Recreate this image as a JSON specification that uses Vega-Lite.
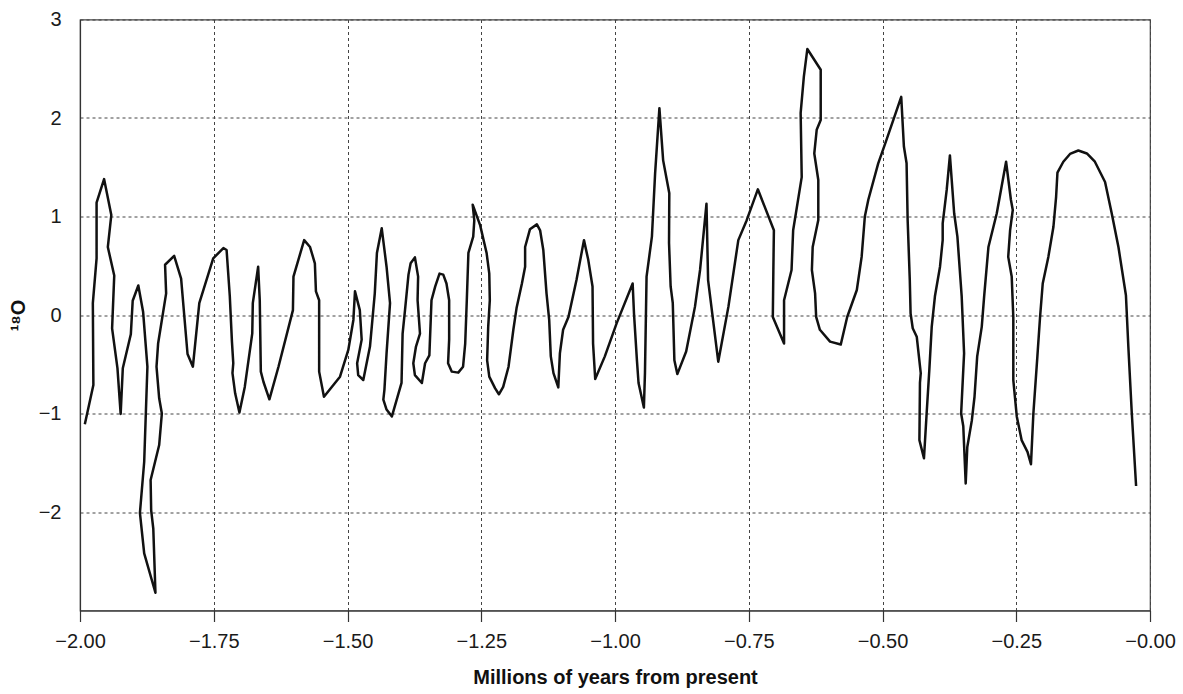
{
  "$schema": "https://vega.github.io/schema/vega-lite/v6.json",
  "autosize": "none",
  "width": 1070,
  "height": 591,
  "padding": {"left": 80, "top": 19.5, "right": 33, "bottom": 83.5},
  "background": "white",
  "config": {
    "view": {"stroke": "#444", "strokeWidth": 1.2},
    "font": "Liberation Sans"
  },
  "data": {
    "values": [
      {"i": 1, "x": -1.991, "y": -1.11},
      {"i": 2, "x": -1.975, "y": -0.71},
      {"i": 3, "x": -1.976, "y": 0.12},
      {"i": 4, "x": -1.969, "y": 0.575},
      {"i": 5, "x": -1.969, "y": 1.14},
      {"i": 6, "x": -1.955, "y": 1.38},
      {"i": 7, "x": -1.9415, "y": 1.015},
      {"i": 8, "x": -1.948, "y": 0.69},
      {"i": 9, "x": -1.936, "y": 0.40},
      {"i": 10, "x": -1.940, "y": -0.135},
      {"i": 11, "x": -1.930, "y": -0.54},
      {"i": 12, "x": -1.924, "y": -1.005},
      {"i": 13, "x": -1.920, "y": -0.54},
      {"i": 14, "x": -1.905, "y": -0.196},
      {"i": 15, "x": -1.9015, "y": 0.145},
      {"i": 16, "x": -1.891, "y": 0.30},
      {"i": 17, "x": -1.882, "y": 0.03},
      {"i": 18, "x": -1.874, "y": -0.525},
      {"i": 19, "x": -1.880, "y": -1.49},
      {"i": 20, "x": -1.888, "y": -2.01},
      {"i": 21, "x": -1.880, "y": -2.42},
      {"i": 22, "x": -1.859, "y": -2.82},
      {"i": 23, "x": -1.863, "y": -2.17},
      {"i": 24, "x": -1.867, "y": -1.98},
      {"i": 25, "x": -1.868, "y": -1.675},
      {"i": 26, "x": -1.852, "y": -1.32},
      {"i": 27, "x": -1.847, "y": -1.0},
      {"i": 28, "x": -1.852, "y": -0.846},
      {"i": 29, "x": -1.857, "y": -0.525},
      {"i": 30, "x": -1.854, "y": -0.29},
      {"i": 31, "x": -1.839, "y": 0.22},
      {"i": 32, "x": -1.841, "y": 0.51},
      {"i": 33, "x": -1.824, "y": 0.60},
      {"i": 34, "x": -1.811, "y": 0.37},
      {"i": 35, "x": -1.799, "y": -0.396},
      {"i": 36, "x": -1.789, "y": -0.525},
      {"i": 37, "x": -1.777, "y": 0.12},
      {"i": 38, "x": -1.751, "y": 0.575},
      {"i": 39, "x": -1.732, "y": 0.68},
      {"i": 40, "x": -1.726, "y": 0.66},
      {"i": 41, "x": -1.720, "y": 0.19},
      {"i": 42, "x": -1.716, "y": -0.27},
      {"i": 43, "x": -1.7135, "y": -0.49},
      {"i": 44, "x": -1.715, "y": -0.59},
      {"i": 45, "x": -1.710, "y": -0.795},
      {"i": 46, "x": -1.702, "y": -0.99},
      {"i": 47, "x": -1.692, "y": -0.73},
      {"i": 48, "x": -1.678, "y": -0.186},
      {"i": 49, "x": -1.677, "y": 0.12},
      {"i": 50, "x": -1.667, "y": 0.49},
      {"i": 51, "x": -1.664, "y": 0.15},
      {"i": 52, "x": -1.662, "y": -0.575},
      {"i": 53, "x": -1.657, "y": -0.68},
      {"i": 54, "x": -1.646, "y": -0.856},
      {"i": 55, "x": -1.629, "y": -0.525},
      {"i": 56, "x": -1.602, "y": 0.05},
      {"i": 57, "x": -1.601, "y": 0.39},
      {"i": 58, "x": -1.581, "y": 0.76},
      {"i": 59, "x": -1.570, "y": 0.69},
      {"i": 60, "x": -1.561, "y": 0.525},
      {"i": 61, "x": -1.559, "y": 0.24},
      {"i": 62, "x": -1.553, "y": 0.15},
      {"i": 63, "x": -1.553, "y": -0.575},
      {"i": 64, "x": -1.544, "y": -0.83},
      {"i": 65, "x": -1.514, "y": -0.626},
      {"i": 66, "x": -1.4985, "y": -0.355},
      {"i": 67, "x": -1.489, "y": -0.05},
      {"i": 68, "x": -1.486, "y": 0.24},
      {"i": 69, "x": -1.477, "y": 0.05},
      {"i": 70, "x": -1.4735, "y": -0.25},
      {"i": 71, "x": -1.482, "y": -0.49},
      {"i": 72, "x": -1.480, "y": -0.61},
      {"i": 73, "x": -1.4705, "y": -0.66},
      {"i": 74, "x": -1.458, "y": -0.32},
      {"i": 75, "x": -1.449, "y": 0.22},
      {"i": 76, "x": -1.445, "y": 0.63},
      {"i": 77, "x": -1.436, "y": 0.88},
      {"i": 78, "x": -1.427, "y": 0.49},
      {"i": 79, "x": -1.4205, "y": 0.12},
      {"i": 80, "x": -1.427, "y": -0.39},
      {"i": 81, "x": -1.431, "y": -0.76},
      {"i": 82, "x": -1.433, "y": -0.86},
      {"i": 83, "x": -1.427, "y": -0.96},
      {"i": 84, "x": -1.417, "y": -1.03},
      {"i": 85, "x": -1.399, "y": -0.69},
      {"i": 86, "x": -1.397, "y": -0.19},
      {"i": 87, "x": -1.3925, "y": 0.05},
      {"i": 88, "x": -1.386, "y": 0.41},
      {"i": 89, "x": -1.382, "y": 0.525},
      {"i": 90, "x": -1.374, "y": 0.585},
      {"i": 91, "x": -1.368, "y": 0.39},
      {"i": 92, "x": -1.369, "y": 0.15},
      {"i": 93, "x": -1.3645, "y": -0.19},
      {"i": 94, "x": -1.372, "y": -0.32},
      {"i": 95, "x": -1.377, "y": -0.49},
      {"i": 96, "x": -1.374, "y": -0.61},
      {"i": 97, "x": -1.361, "y": -0.69},
      {"i": 98, "x": -1.355, "y": -0.49},
      {"i": 99, "x": -1.347, "y": -0.41},
      {"i": 100, "x": -1.343, "y": 0.15},
      {"i": 101, "x": -1.336, "y": 0.29},
      {"i": 102, "x": -1.328, "y": 0.42},
      {"i": 103, "x": -1.321, "y": 0.41},
      {"i": 104, "x": -1.315, "y": 0.32},
      {"i": 105, "x": -1.310, "y": 0.15},
      {"i": 106, "x": -1.310, "y": -0.25},
      {"i": 107, "x": -1.312, "y": -0.49},
      {"i": 108, "x": -1.305, "y": -0.575},
      {"i": 109, "x": -1.293, "y": -0.585},
      {"i": 110, "x": -1.284, "y": -0.525},
      {"i": 111, "x": -1.280, "y": -0.29},
      {"i": 112, "x": -1.277, "y": 0.15},
      {"i": 113, "x": -1.274, "y": 0.63},
      {"i": 114, "x": -1.265, "y": 0.795},
      {"i": 115, "x": -1.263, "y": 0.96},
      {"i": 116, "x": -1.266, "y": 1.12},
      {"i": 117, "x": -1.252, "y": 0.91},
      {"i": 118, "x": -1.240, "y": 0.63},
      {"i": 119, "x": -1.235, "y": 0.42},
      {"i": 120, "x": -1.234, "y": 0.15},
      {"i": 121, "x": -1.237, "y": -0.12},
      {"i": 122, "x": -1.239, "y": -0.46},
      {"i": 123, "x": -1.235, "y": -0.626},
      {"i": 124, "x": -1.224, "y": -0.745},
      {"i": 125, "x": -1.217, "y": -0.805},
      {"i": 126, "x": -1.209, "y": -0.73},
      {"i": 127, "x": -1.199, "y": -0.525},
      {"i": 128, "x": -1.190, "y": -0.15},
      {"i": 129, "x": -1.184, "y": 0.07},
      {"i": 130, "x": -1.174, "y": 0.32},
      {"i": 131, "x": -1.168, "y": 0.49},
      {"i": 132, "x": -1.168, "y": 0.69},
      {"i": 133, "x": -1.159, "y": 0.87},
      {"i": 134, "x": -1.146, "y": 0.92},
      {"i": 135, "x": -1.140, "y": 0.86},
      {"i": 136, "x": -1.134, "y": 0.66},
      {"i": 137, "x": -1.128, "y": 0.22},
      {"i": 138, "x": -1.123, "y": -0.05},
      {"i": 139, "x": -1.120, "y": -0.42},
      {"i": 140, "x": -1.115, "y": -0.59},
      {"i": 141, "x": -1.106, "y": -0.735},
      {"i": 142, "x": -1.103, "y": -0.39},
      {"i": 143, "x": -1.097, "y": -0.15},
      {"i": 144, "x": -1.087, "y": -0.02},
      {"i": 145, "x": -1.072, "y": 0.355},
      {"i": 146, "x": -1.058, "y": 0.76},
      {"i": 147, "x": -1.050, "y": 0.56},
      {"i": 148, "x": -1.042, "y": 0.29},
      {"i": 149, "x": -1.041, "y": -0.29},
      {"i": 150, "x": -1.037, "y": -0.65},
      {"i": 151, "x": -1.019, "y": -0.42},
      {"i": 152, "x": -0.997, "y": -0.085},
      {"i": 153, "x": -0.967, "y": 0.32},
      {"i": 154, "x": -0.9645, "y": 0.015},
      {"i": 155, "x": -0.959, "y": -0.46},
      {"i": 156, "x": -0.956, "y": -0.69},
      {"i": 157, "x": -0.946, "y": -0.94},
      {"i": 158, "x": -0.944, "y": -0.59},
      {"i": 159, "x": -0.941, "y": 0.39},
      {"i": 160, "x": -0.931, "y": 0.795},
      {"i": 161, "x": -0.925, "y": 1.44},
      {"i": 162, "x": -0.917, "y": 2.10},
      {"i": 163, "x": -0.910, "y": 1.57},
      {"i": 164, "x": -0.8985, "y": 1.235},
      {"i": 165, "x": -0.899, "y": 0.73},
      {"i": 166, "x": -0.896, "y": 0.29},
      {"i": 167, "x": -0.892, "y": 0.12},
      {"i": 168, "x": -0.889, "y": -0.46},
      {"i": 169, "x": -0.8835, "y": -0.60},
      {"i": 170, "x": -0.867, "y": -0.37},
      {"i": 171, "x": -0.8505, "y": 0.085},
      {"i": 172, "x": -0.841, "y": 0.457},
      {"i": 173, "x": -0.829, "y": 1.13},
      {"i": 174, "x": -0.826, "y": 0.355},
      {"i": 175, "x": -0.807, "y": -0.474},
      {"i": 176, "x": -0.788, "y": 0.085},
      {"i": 177, "x": -0.7695, "y": 0.76},
      {"i": 178, "x": -0.754, "y": 0.96},
      {"i": 179, "x": -0.733, "y": 1.276},
      {"i": 180, "x": -0.703, "y": 0.86},
      {"i": 181, "x": -0.704, "y": 0.457},
      {"i": 182, "x": -0.705, "y": -0.02},
      {"i": 183, "x": -0.684, "y": -0.29},
      {"i": 184, "x": -0.684, "y": 0.15},
      {"i": 185, "x": -0.670, "y": 0.457},
      {"i": 186, "x": -0.667, "y": 0.86},
      {"i": 187, "x": -0.651, "y": 1.40},
      {"i": 188, "x": -0.653, "y": 2.05},
      {"i": 189, "x": -0.647, "y": 2.42},
      {"i": 190, "x": -0.6405, "y": 2.70},
      {"i": 191, "x": -0.6155, "y": 2.49},
      {"i": 192, "x": -0.6155, "y": 1.98},
      {"i": 193, "x": -0.623, "y": 1.88},
      {"i": 194, "x": -0.6275, "y": 1.64},
      {"i": 195, "x": -0.620, "y": 1.37},
      {"i": 196, "x": -0.620, "y": 0.965},
      {"i": 197, "x": -0.6305, "y": 0.69},
      {"i": 198, "x": -0.632, "y": 0.457},
      {"i": 199, "x": -0.626, "y": 0.22},
      {"i": 200, "x": -0.624, "y": -0.02},
      {"i": 201, "x": -0.617, "y": -0.15},
      {"i": 202, "x": -0.598, "y": -0.27},
      {"i": 203, "x": -0.578, "y": -0.30},
      {"i": 204, "x": -0.566, "y": -0.02},
      {"i": 205, "x": -0.548, "y": 0.254},
      {"i": 206, "x": -0.539, "y": 0.59},
      {"i": 207, "x": -0.533, "y": 1.0},
      {"i": 208, "x": -0.5265, "y": 1.17},
      {"i": 209, "x": -0.508, "y": 1.54},
      {"i": 210, "x": -0.495, "y": 1.74},
      {"i": 211, "x": -0.481, "y": 1.96},
      {"i": 212, "x": -0.465, "y": 2.215},
      {"i": 213, "x": -0.460, "y": 1.71},
      {"i": 214, "x": -0.455, "y": 1.54},
      {"i": 215, "x": -0.453, "y": 0.965},
      {"i": 216, "x": -0.449, "y": 0.355},
      {"i": 217, "x": -0.4475, "y": 0.017},
      {"i": 218, "x": -0.4435, "y": -0.135},
      {"i": 219, "x": -0.436, "y": -0.22},
      {"i": 220, "x": -0.4285, "y": -0.59},
      {"i": 221, "x": -0.430, "y": -0.69},
      {"i": 222, "x": -0.431, "y": -1.27},
      {"i": 223, "x": -0.4225, "y": -1.455},
      {"i": 224, "x": -0.4175, "y": -1.0},
      {"i": 225, "x": -0.4125, "y": -0.56},
      {"i": 226, "x": -0.408, "y": -0.12},
      {"i": 227, "x": -0.402, "y": 0.19},
      {"i": 228, "x": -0.3925, "y": 0.49},
      {"i": 229, "x": -0.3875, "y": 0.76},
      {"i": 230, "x": -0.3875, "y": 0.93},
      {"i": 231, "x": -0.380, "y": 1.27},
      {"i": 232, "x": -0.374, "y": 1.62},
      {"i": 233, "x": -0.366, "y": 1.03},
      {"i": 234, "x": -0.360, "y": 0.795},
      {"i": 235, "x": -0.352, "y": 0.19},
      {"i": 236, "x": -0.3475, "y": -0.39},
      {"i": 237, "x": -0.353, "y": -1.0},
      {"i": 238, "x": -0.349, "y": -1.13},
      {"i": 239, "x": -0.3445, "y": -1.71},
      {"i": 240, "x": -0.3415, "y": -1.34},
      {"i": 241, "x": -0.333, "y": -1.07},
      {"i": 242, "x": -0.328, "y": -0.83},
      {"i": 243, "x": -0.323, "y": -0.42},
      {"i": 244, "x": -0.3145, "y": -0.12},
      {"i": 245, "x": -0.310, "y": 0.19},
      {"i": 246, "x": -0.302, "y": 0.69},
      {"i": 247, "x": -0.2865, "y": 1.03},
      {"i": 248, "x": -0.269, "y": 1.556},
      {"i": 249, "x": -0.260, "y": 1.17},
      {"i": 250, "x": -0.2565, "y": 1.066},
      {"i": 251, "x": -0.2615, "y": 0.86},
      {"i": 252, "x": -0.265, "y": 0.59},
      {"i": 253, "x": -0.2585, "y": 0.39},
      {"i": 254, "x": -0.2555, "y": -0.02},
      {"i": 255, "x": -0.2555, "y": -0.66},
      {"i": 256, "x": -0.249, "y": -1.03},
      {"i": 257, "x": -0.240, "y": -1.27},
      {"i": 258, "x": -0.229, "y": -1.39},
      {"i": 259, "x": -0.2225, "y": -1.515},
      {"i": 260, "x": -0.218, "y": -1.0},
      {"i": 261, "x": -0.2105, "y": -0.42},
      {"i": 262, "x": -0.2055, "y": -0.02},
      {"i": 263, "x": -0.2005, "y": 0.32},
      {"i": 264, "x": -0.190, "y": 0.59},
      {"i": 265, "x": -0.1805, "y": 0.896},
      {"i": 266, "x": -0.1755, "y": 1.20},
      {"i": 267, "x": -0.173, "y": 1.445},
      {"i": 268, "x": -0.162, "y": 1.556},
      {"i": 269, "x": -0.1495, "y": 1.635},
      {"i": 270, "x": -0.134, "y": 1.67},
      {"i": 271, "x": -0.118, "y": 1.64},
      {"i": 272, "x": -0.103, "y": 1.556},
      {"i": 273, "x": -0.084, "y": 1.35},
      {"i": 274, "x": -0.0715, "y": 1.03},
      {"i": 275, "x": -0.059, "y": 0.69},
      {"i": 276, "x": -0.045, "y": 0.20},
      {"i": 277, "x": -0.0405, "y": -0.32},
      {"i": 278, "x": -0.034, "y": -1.0},
      {"i": 279, "x": -0.026, "y": -1.736}
    ]
  },
  "mark": {"type": "line", "color": "#111", "strokeWidth": 2.5, "strokeJoin": "round"},
  "encoding": {
    "order": {"field": "i", "type": "quantitative"},
    "x": {
      "field": "x",
      "type": "quantitative",
      "scale": {"domain": [-2, 0], "nice": false, "zero": false},
      "axis": {
        "title": "Millions of years from present",
        "titleFont": "Liberation Sans",
        "titleFontSize": 20,
        "titleFontWeight": "bold",
        "titleColor": "#111",
        "titlePadding": 16,
        "values": [-2, -1.75, -1.5, -1.25, -1, -0.75, -0.5, -0.25, 0],
        "labelExpr": "'\u2212' + format(abs(datum.value), '.2f')",
        "labelFont": "Liberation Sans",
        "labelFontSize": 20,
        "labelColor": "#1a1a1a",
        "labelPadding": 10,
        "labelFlush": false,
        "tickSize": 11,
        "tickColor": "#333",
        "tickWidth": 1.2,
        "domainColor": "#333",
        "domainWidth": 1.2,
        "grid": true,
        "gridColor": "#444",
        "gridDash": [3, 3],
        "gridWidth": 1,
        "gridOpacity": 1
      }
    },
    "y": {
      "field": "y",
      "type": "quantitative",
      "scale": {"domain": [-3, 3], "nice": false, "zero": false},
      "axis": {
        "title": "\u00b9\u2078O",
        "titleFont": "Liberation Sans",
        "titleFontSize": 20,
        "titleFontWeight": "bold",
        "titleColor": "#111",
        "titlePadding": 10,
        "values": [-2, -1, 0, 1, 2, 3],
        "labelExpr": "datum.value < 0 ? '\u2212' + format(abs(datum.value), 'd') : format(datum.value, 'd')",
        "labelFont": "Liberation Sans",
        "labelFontSize": 20,
        "labelColor": "#1a1a1a",
        "labelPadding": 19,
        "labelFlush": false,
        "ticks": false,
        "tickSize": 0,
        "domainColor": "#333",
        "domainWidth": 1.2,
        "grid": true,
        "gridColor": "#444",
        "gridDash": [3, 3],
        "gridWidth": 1,
        "gridOpacity": 1
      }
    }
  }
}
